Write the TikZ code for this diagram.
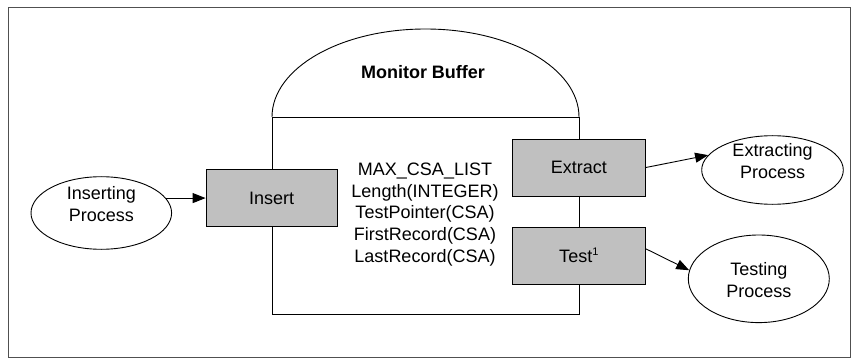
\documentclass[tikz,border=0pt]{standalone}
\usepackage{fontspec}
\setmainfont{Liberation Sans}
\usetikzlibrary{shapes.geometric,arrows.meta}
\tikzset{
  txt/.style={font=\fontsize{18}{21.7}\selectfont, align=center, inner sep=0pt},
  opbox/.style={draw, line width=0.9pt, fill=boxgray, rectangle, inner sep=0pt,
    minimum height=56.7pt, font=\fontsize{18}{21.7}\selectfont},
  proc/.style={draw, line width=0.9pt, ellipse, inner sep=0pt},
  arr/.style={line width=0.9pt, -{Triangle[length=13pt,width=10pt]}},
  edge/.style={line width=0.9pt}
}
\definecolor{boxgray}{RGB}{192,192,192}
\definecolor{framegray}{RGB}{80,80,80}
\newcommand{\supone}{\raisebox{0.75ex}{\fontsize{11}{11}\selectfont 1}}
\begin{document}
\begin{tikzpicture}[x=1pt,y=-1pt]
\useasboundingbox (0,0) rectangle (853,358);
% outer frame
\draw[framegray, line width=1pt] (8,7.5) rectangle (850.5,357.5);

% monitor buffer: dome on top of a rectangular body
\draw[edge] (272,117) .. controls (272,68.4) and (340.2,29) .. (425.5,29)
            .. controls (510.8,29) and (579,68.4) .. (579,117);
\draw[edge] (272,117) -- (579,117);
\draw[edge] (272,117) -- (272,314) -- (579,314) -- (579,117);
\node[txt, font=\fontsize{18}{21.7}\selectfont\bfseries] (title) at (423,71.7) {Monitor Buffer};

% buffer variables
\node[txt] (vars) at (425,214.4) {MAX\_CSA\_LIST\\Length(INTEGER)\\TestPointer(CSA)\\FirstRecord(CSA)\\LastRecord(CSA)};

% operations
\node[opbox, minimum width=131.3pt] (insert) at (271.7,198.3) {Insert};
\node[opbox, minimum width=132.3pt] (extract) at (578.8,167.6) {Extract};
\node[opbox, minimum width=132.3pt] (test) at (578.8,255.6) {Test\supone};

% processes
\node[proc, minimum width=140.6pt, minimum height=72.6pt] (insproc) at (101.3,213) {};
\node[txt] (instext) at (101.3,204) {Inserting\\Process};
\node[proc, minimum width=141.6pt, minimum height=68.6pt] (extproc) at (772.5,170) {};
\node[txt] (exttext) at (772.5,161) {Extracting\\Process};
\node[proc, minimum width=141pt, minimum height=87.6pt] (testproc) at (758.8,278.8) {};
\node[txt] (testtext) at (758.8,280) {Testing\\Process};

% connectors
\draw[arr] (insproc.13) -- (insert.west |- insproc.13);
\draw[arr] (extract.east) -- (extproc.167);
\draw[arr] (test.6) -- (testproc.173);
\end{tikzpicture}
\end{document}
